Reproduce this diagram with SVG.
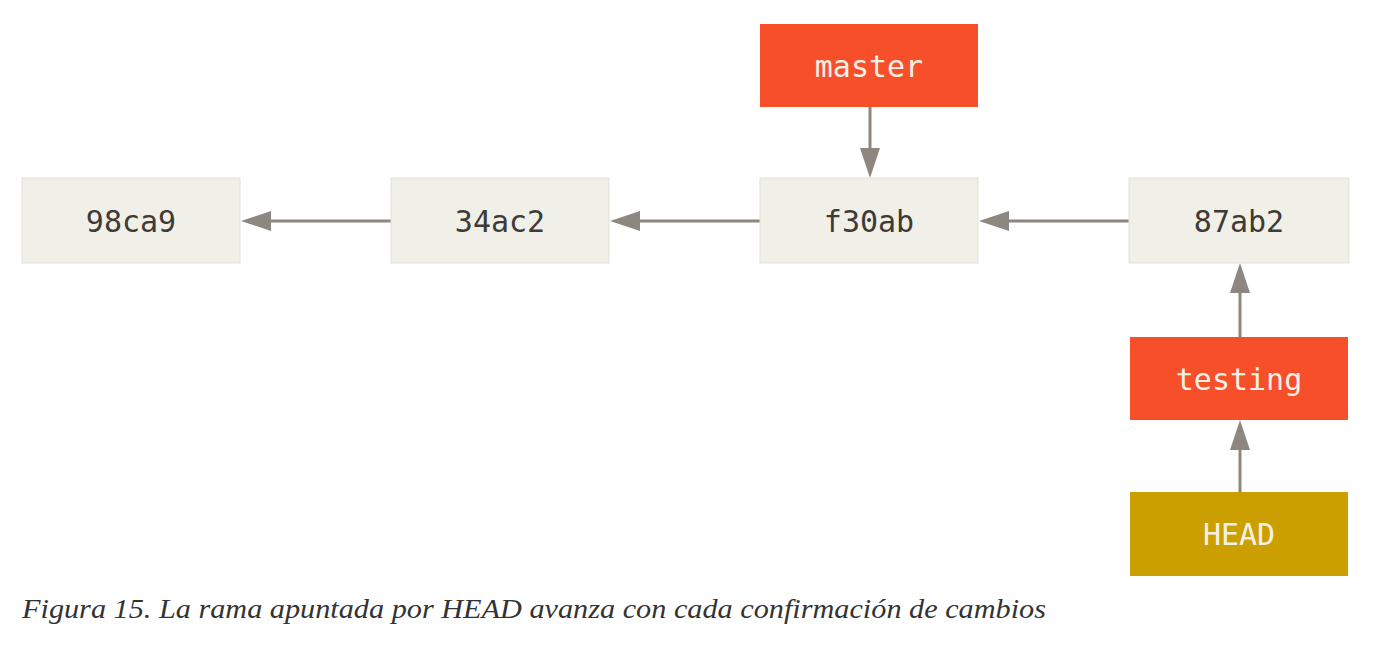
<svg xmlns="http://www.w3.org/2000/svg" width="1394" height="648" viewBox="0 0 1394 648">
<defs>
<style>
.commit{fill:#f0efe8;stroke:#e2e1da;stroke-width:1}
.branch{fill:#f64f29}
.head{fill:#cc9f00}
.t{font-family:"DejaVu Sans Mono",monospace;font-size:30px;text-anchor:middle;dominant-baseline:central}
.dark{fill:#3e3a36}
.light{fill:#f6f1e6}
.conn{stroke:#8d877f;stroke-width:3;fill:none}
.cap{font-family:"Liberation Serif","DejaVu Serif",serif;font-style:italic;font-size:27px;fill:#333}
</style>
<marker id="ah" markerWidth="10" markerHeight="10" refX="10" refY="5" orient="auto" markerUnits="userSpaceOnUse" viewBox="0 0 10 10">
<path d="M0,0 L10,5 L0,10 z" fill="#8d877f"/>
</marker>
</defs>
<rect width="1394" height="648" fill="#fff"/>
<g id="connectors">
<line class="conn" x1="391" y1="221" x2="270" y2="221"/>
<path d="M241,221 L271,211 L271,231 z" fill="#8d877f"/>
<line class="conn" x1="760" y1="221" x2="639" y2="221"/>
<path d="M610,221 L640,211 L640,231 z" fill="#8d877f"/>
<line class="conn" x1="1129" y1="221" x2="1008" y2="221"/>
<path d="M979,221 L1009,211 L1009,231 z" fill="#8d877f"/>
<line class="conn" x1="870" y1="107" x2="870" y2="150"/>
<path d="M870,178 L860,148 L880,148 z" fill="#8d877f"/>
<line class="conn" x1="1240" y1="337" x2="1240" y2="292"/>
<path d="M1240,263 L1230,293 L1250,293 z" fill="#8d877f"/>
<line class="conn" x1="1240" y1="492" x2="1240" y2="449"/>
<path d="M1240,420 L1230,450 L1250,450 z" fill="#8d877f"/>
</g>
<g id="c98ca9"><rect class="commit" x="22" y="178" width="218" height="85"/><text class="t dark" x="131" y="221">98ca9</text></g>
<g id="c34ac2"><rect class="commit" x="391" y="178" width="218" height="85"/><text class="t dark" x="500" y="221">34ac2</text></g>
<g id="cf30ab"><rect class="commit" x="760" y="178" width="218" height="85"/><text class="t dark" x="869" y="221">f30ab</text></g>
<g id="c87ab2"><rect class="commit" x="1129" y="178" width="220" height="85"/><text class="t dark" x="1239" y="221">87ab2</text></g>
<g id="master"><rect class="branch" x="760" y="24" width="218" height="83"/><text class="t light" x="869" y="66">master</text></g>
<g id="testing"><rect class="branch" x="1130" y="337" width="218" height="83"/><text class="t light" x="1239" y="379">testing</text></g>
<g id="HEAD"><rect class="head" x="1130" y="492" width="218" height="84"/><text class="t light" x="1239" y="534">HEAD</text></g>
<text class="cap" x="22" y="618" textLength="1024" lengthAdjust="spacingAndGlyphs">Figura 15. La rama apuntada por HEAD avanza con cada confirmación de cambios</text>
</svg>
